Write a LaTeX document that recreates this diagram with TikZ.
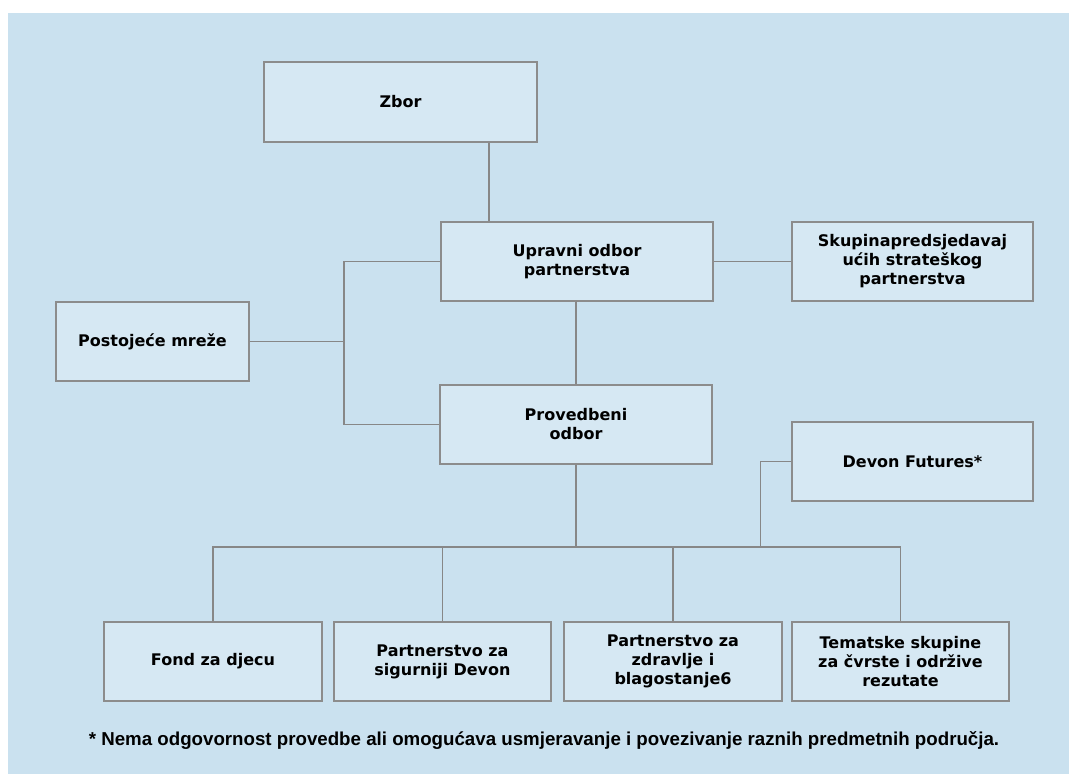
\documentclass[tikz,border=0pt]{standalone}
\usepackage{fontspec}
\newfontfamily\boxfont{DejaVu Sans}
\newfontfamily\notefont{Liberation Sans}
\definecolor{bgblue}{RGB}{202,225,239}
\definecolor{boxblue}{RGB}{214,232,243}
\definecolor{edgegray}{RGB}{140,140,140}
\definecolor{linegray}{RGB}{135,135,135}
\tikzset{
  orgbox/.style={draw=edgegray, line width=1.3pt, fill=boxblue, inner sep=0pt,
    align=center, text=black, font=\boxfont\bfseries\fontsize{16}{19}\selectfont},
  conn/.style={draw=linegray, line width=1.1pt}
}
\begin{document}
\begin{tikzpicture}[x=1pt,y=-1pt]
\useasboundingbox (0,0) rectangle (1069,774);
\fill[bgblue] (8,13) rectangle (1069,774);

\node[orgbox, minimum width=273pt, minimum height=80pt] (zbor) at (400.5,102) {Zbor};
\node[orgbox, minimum width=272pt, minimum height=79pt] (up) at (577,261.5) {Upravni odbor\\partnerstva};
\node[orgbox, minimum width=241pt, minimum height=79pt] (sk) at (912.5,261.5) {Skupinapredsjedavaj\\ućih strateškog\\partnerstva};
\node[orgbox, minimum width=193pt, minimum height=79pt] (pm) at (152.5,341.5) {Postojeće mreže};
\node[orgbox, minimum width=272pt, minimum height=79pt] (prov) at (576,424.5) {Provedbeni\\odbor};
\node[orgbox, minimum width=241pt, minimum height=79pt] (df) at (912.5,461.5) {Devon Futures*};
\node[orgbox, minimum width=218pt, minimum height=79pt] (fond) at (213,661.5) {Fond za djecu};
\node[orgbox, minimum width=217pt, minimum height=79pt] (ps) at (442.5,661.5) {Partnerstvo za\\sigurniji Devon};
\node[orgbox, minimum width=218pt, minimum height=79pt] (pz) at (673,661.5) {Partnerstvo za\\zdravlje i\\blagostanje6};
\node[orgbox, minimum width=217pt, minimum height=79pt] (tem) at (900.5,661.5) {Tematske skupine\\za čvrste i održive\\rezutate};

\node[font=\notefont\bfseries\fontsize{18.7}{22}\selectfont, text=black, inner sep=0pt] (note) at (544,740)
  {* Nema odgovornost provedbe ali omogućava usmjeravanje i povezivanje raznih predmetnih područja.};

\coordinate (j1) at (489,180);
\coordinate (tr) at (344,340);
\coordinate (bus) at (577,547);
\coordinate (dfx) at (760.5,500);

\draw[conn] (zbor.south -| j1) -- (up.north -| j1);
\draw[conn] (up.west) -- (up.west -| tr) -- (prov.west -| tr) -- (prov.west);
\draw[conn] (pm.east) -- (pm.east -| tr);
\draw[conn] (up.east) -- (sk.west);
\draw[conn] (up.south) -- (prov.south |- up.south);
\draw[conn] (prov.south |- up.south) -- (prov.north);
\draw[conn] (prov.south) -- (prov.south |- bus);
\draw[conn] (fond.north) -- (fond.north |- bus) -- (tem.north |- bus) -- (tem.north);
\draw[conn] (ps.north) -- (ps.north |- bus);
\draw[conn] (pz.north) -- (pz.north |- bus);
\draw[conn] (df.west) -- (df.west -| dfx) -- (dfx |- bus);
\end{tikzpicture}
\end{document}
